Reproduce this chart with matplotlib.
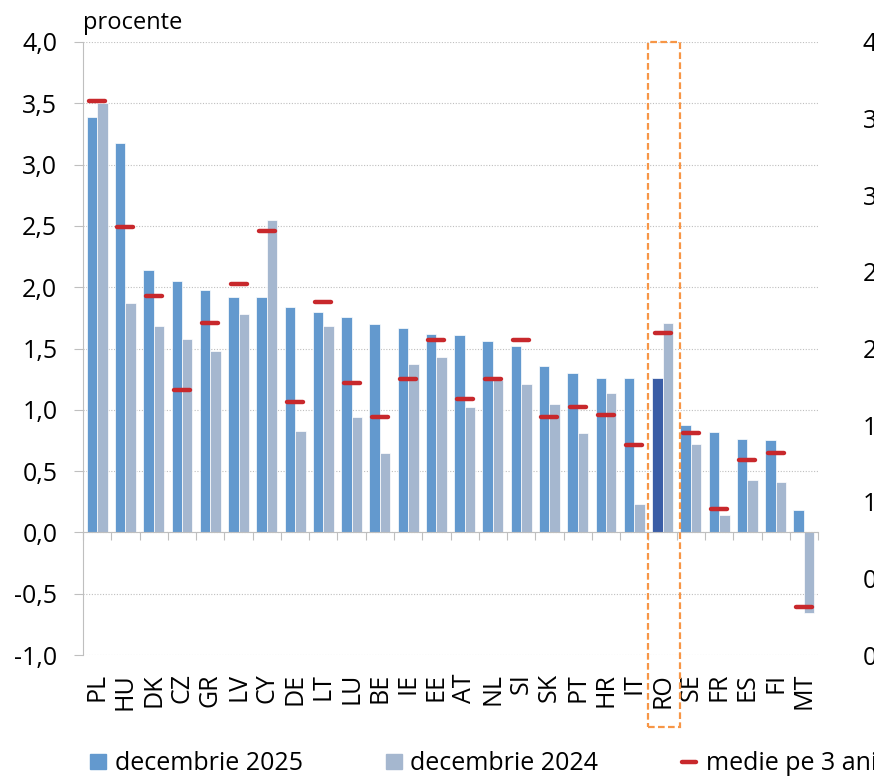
import numpy as np
import matplotlib
matplotlib.use('Agg')
import matplotlib.pyplot as plt
from matplotlib.lines import Line2D
from matplotlib.markers import MarkerStyle
from matplotlib.patches import Patch, Rectangle
from matplotlib.ticker import FuncFormatter

plt.rcParams['font.family'] = ['Open Sans', 'DejaVu Sans']

# data (procente)
countries = ['PL', 'HU', 'DK', 'CZ', 'GR', 'LV', 'CY', 'DE', 'LT', 'LU', 'BE', 'IE', 'EE',
             'AT', 'NL', 'SI', 'SK', 'PT', 'HR', 'IT', 'RO', 'SE', 'FR', 'ES', 'FI', 'MT']
dec_2025 = [3.39, 3.18, 2.14, 2.05, 1.98, 1.92, 1.92, 1.84, 1.80, 1.76, 1.70, 1.67, 1.62,
            1.61, 1.56, 1.52, 1.36, 1.30, 1.26, 1.26, 1.26, 0.88, 0.82, 0.76, 0.75, 0.18]
dec_2024 = [3.50, 1.87, 1.68, 1.58, 1.48, 1.78, 2.55, 0.83, 1.68, 0.94, 0.65, 1.37, 1.43,
            1.02, 1.24, 1.21, 1.05, 0.81, 1.14, 0.23, 1.71, 0.72, 0.14, 0.43, 0.41, -0.66]
medie_3ani = [3.52, 2.49, 1.93, 1.16, 1.71, 2.03, 2.46, 1.06, 1.88, 1.22, 0.94, 1.25, 1.57,
              1.09, 1.25, 1.57, 0.94, 1.02, 0.96, 0.71, 1.63, 0.81, 0.19, 0.59, 0.65, -0.61]
highlight = 'RO'

c_2025 = '#6399CE'
c_2024 = '#A5B7CF'
c_ro = '#3A5DA6'
c_medie = '#C8282C'
c_box = '#F79646'
c_axis = '#BFBFBF'
fs = 18

fig = plt.figure(figsize=(8.74, 7.76), dpi=100)
ax = fig.add_axes([0.095, 0.1559, 0.841, 0.79])

x = np.arange(len(countries))
w = 0.37
colors = [c_ro if c == highlight else c_2025 for c in countries]
ax.bar(x - w / 2, dec_2025, w, color=colors, edgecolor='white', linewidth=0.5, zorder=2)
ax.bar(x + w / 2, dec_2024, w, color=c_2024, edgecolor='white', linewidth=0.5, zorder=2)
dash = MarkerStyle('_', capstyle='round')
ax.plot(x, medie_3ani, ls='none', marker=dash, markersize=11.5, markeredgewidth=3.2,
        color=c_medie, zorder=3)

ax.set_xlim(-0.5, len(countries) - 0.5)
ax.set_ylim(-1, 4)
ax.set_yticks(np.arange(-1, 4.01, 0.5))
fmt = FuncFormatter(lambda v, p: f'{v:.1f}'.replace('.', ','))
ax.yaxis.set_major_formatter(fmt)
ax.tick_params(axis='y', labelsize=fs, length=6.5, color=c_axis, pad=12)
ax.yaxis.grid(True, linestyle=(0, (1, 1.5)), color=c_axis, linewidth=0.8)
ax.set_axisbelow(True)

# category axis crosses at zero, ticks between categories
ax.spines['bottom'].set_position(('data', 0))
ax.spines['bottom'].set_color(c_axis)
ax.spines['left'].set_color(c_axis)
ax.spines['top'].set_visible(False)
ax.spines['right'].set_visible(False)
ax.set_xticks(np.arange(len(countries) + 1) - 0.5)
ax.set_xticklabels([])
ax.tick_params(axis='x', length=6, color=c_axis)

sec = ax.secondary_xaxis('bottom')
sec.set_xticks(x, labels=countries, rotation=90)
sec.tick_params(length=0, pad=13, labelsize=fs)
sec.spines['bottom'].set_visible(False)

# right axis (cut by the image edge)
ax2 = ax.twinx()
ax2.set_ylim(0, 4)
ax2.set_yticks(np.arange(0, 4.01, 0.5))
ax2.yaxis.set_major_formatter(fmt)
ax2.tick_params(axis='y', length=0, pad=32, labelsize=fs)
for s in ax2.spines.values():
    s.set_visible(False)

ax.annotate('procente', xy=(0, 1), xycoords='axes fraction', xytext=(0, 9),
            textcoords='offset points', fontsize=fs - 1, va='baseline', ha='left')

# dashed frame around Romania
i = countries.index(highlight)
ax.add_patch(Rectangle((i - 0.5, -1.59), 1.1, 5.59, fill=False, edgecolor=c_box,
                       linestyle=(0, (3, 1.5)), linewidth=1.6, clip_on=False, zorder=4))

handles = [Patch(color=c_2025), Patch(color=c_2024),
           Line2D([], [], ls='none', marker=dash, markersize=10.5, markeredgewidth=3.2,
                  color=c_medie)]
fig.legend(handles, ['decembrie 2025', 'decembrie 2024', 'medie pe 3 ani'],
           loc='center left', bbox_to_anchor=(90 / 874, 1 - 764 / 776), ncol=3,
           frameon=False, fontsize=fs, borderpad=0, borderaxespad=0,
           handlelength=0.65, handleheight=0.55, handletextpad=0.35, columnspacing=3.3)

fig.savefig('out.png', dpi=100)
